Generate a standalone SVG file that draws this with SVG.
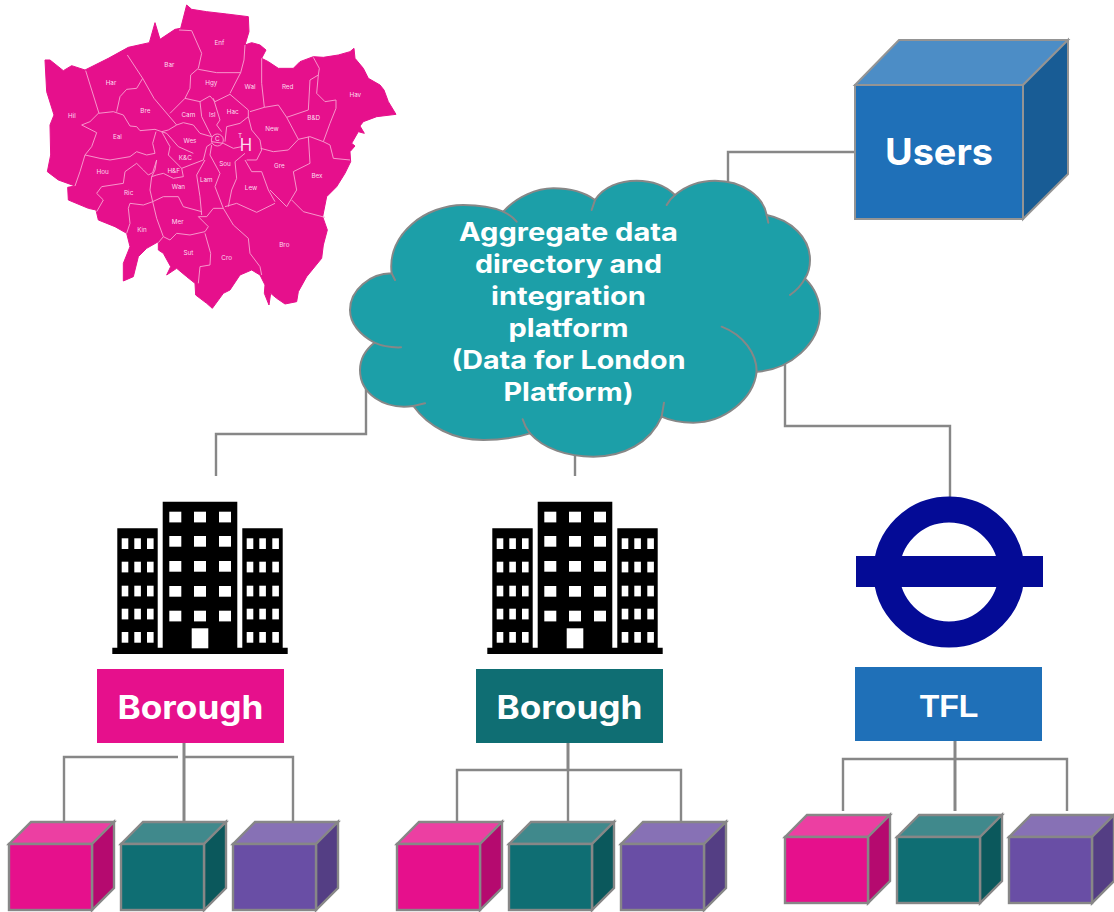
<svg xmlns="http://www.w3.org/2000/svg" width="1114" height="912" viewBox="0 0 1114 912">
<style>
.conn{fill:none;stroke:#878787;stroke-width:2.4}
.trunk{fill:none;stroke:#878787;stroke-width:3}
.edge{stroke:#878787;stroke-width:2.4;stroke-linejoin:miter}
.t{font-family:Inter,"Liberation Sans",sans-serif;font-weight:700;fill:#fff;text-anchor:middle}
.b{fill:none;stroke:#f79fd0;stroke-width:2.8;stroke-linejoin:round}
.m{font-family:Inter,"Liberation Sans",sans-serif;font-size:19px;fill:#fcdcee;text-anchor:middle}
.pk{--f:#e6108c;--u:#ec3fa2;--s:#b50a6f}
.tl{--f:#0f6e73;--u:#40898c;--s:#0b585c}
.pu{--f:#694ea5;--u:#8771b5;--s:#543e84}
.f{fill:var(--f)}.u{fill:var(--u)}.s{fill:var(--s)}
.w{fill:#fff}
</style>
<defs>
<g id="cube">
<path class="u edge" d="M0 22 22 0H105L83 22Z"/>
<path class="s edge" d="M83 22 105 0V66L83 88Z"/>
<rect class="f edge" x="0" y="22" width="83" height="66"/>
</g>
<g id="bld">
<path d="M112.3 647.7H117.3V528.3H157.7V647.7H162.7V501.7H237.3V647.7H242.3V528.3H282.7V647.7H287.7V654H112.3Z"/>
<g class="w">
<rect x="169.3" y="511.7" width="12" height="10.7"/><rect x="194" y="511.7" width="12" height="10.7"/><rect x="219" y="511.7" width="12" height="10.7"/>
<rect x="169.3" y="536" width="12" height="10.7"/><rect x="194" y="536" width="12" height="10.7"/><rect x="219" y="536" width="12" height="10.7"/>
<rect x="169.3" y="561" width="12" height="10.7"/><rect x="194" y="561" width="12" height="10.7"/><rect x="219" y="561" width="12" height="10.7"/>
<rect x="169.3" y="586" width="12" height="10.7"/><rect x="194" y="586" width="12" height="10.7"/><rect x="219" y="586" width="12" height="10.7"/>
<rect x="169.3" y="610.7" width="12" height="10.7"/><rect x="194" y="610.7" width="12" height="10.7"/><rect x="219" y="610.7" width="12" height="10.7"/>
<rect x="191.7" y="628.3" width="16.6" height="20"/>
<rect x="121.7" y="538.3" width="6.6" height="10.7"/><rect x="134.3" y="538.3" width="6.6" height="10.7"/><rect x="147" y="538.3" width="6.6" height="10.7"/>
<rect x="121.7" y="561.7" width="6.6" height="10.7"/><rect x="134.3" y="561.7" width="6.6" height="10.7"/><rect x="147" y="561.7" width="6.6" height="10.7"/>
<rect x="121.7" y="585.7" width="6.6" height="10.7"/><rect x="134.3" y="585.7" width="6.6" height="10.7"/><rect x="147" y="585.7" width="6.6" height="10.7"/>
<rect x="121.7" y="608.7" width="6.6" height="10.7"/><rect x="134.3" y="608.7" width="6.6" height="10.7"/><rect x="147" y="608.7" width="6.6" height="10.7"/>
<rect x="121.7" y="632" width="6.6" height="10.7"/><rect x="134.3" y="632" width="6.6" height="10.7"/><rect x="147" y="632" width="6.6" height="10.7"/>
<rect x="246.7" y="538.3" width="6.6" height="10.7"/><rect x="259.3" y="538.3" width="6.6" height="10.7"/><rect x="272.3" y="538.3" width="6.6" height="10.7"/>
<rect x="246.7" y="561.7" width="6.6" height="10.7"/><rect x="259.3" y="561.7" width="6.6" height="10.7"/><rect x="272.3" y="561.7" width="6.6" height="10.7"/>
<rect x="246.7" y="585.7" width="6.6" height="10.7"/><rect x="259.3" y="585.7" width="6.6" height="10.7"/><rect x="272.3" y="585.7" width="6.6" height="10.7"/>
<rect x="246.7" y="608.7" width="6.6" height="10.7"/><rect x="259.3" y="608.7" width="6.6" height="10.7"/><rect x="272.3" y="608.7" width="6.6" height="10.7"/>
<rect x="246.7" y="632" width="6.6" height="10.7"/><rect x="259.3" y="632" width="6.6" height="10.7"/><rect x="272.3" y="632" width="6.6" height="10.7"/>
</g>
</g>
</defs>

<g id="connectors">
<path class="conn" d="M855 152H728V184"/>
<path class="conn" d="M366 386V434H216V476"/>
<path class="conn" d="M575 455V476"/>
<path class="conn" d="M785 364V426H950V498"/>
<path class="trunk" d="M184 743V822"/>
<path class="conn" d="M178 757H64V822M184 757H293V822"/>
<path class="trunk" d="M568 743V770"/>
<path class="conn" d="M568 770V822M457 822V770H681V822"/>
<path class="trunk" d="M955 741V811"/>
<path class="conn" d="M843 811V759H1067V811"/>
</g>

<g id="map" transform="translate(30 0) scale(.33333)">
<path fill="#e6108c" stroke="#e6108c" stroke-width="3" stroke-linejoin="round" d="M470 15 485 28 530 35 590 42 655 50 657 95 645 135 665 128 690 135 708 150 695 175 715 185 745 205 790 205 810 185 850 170 880 172 925 165 960 155 972 145 975 175 1000 205 1015 235 1050 255 1062 270 1075 305 1098 343 1040 350 1000 365 990 378 1003 400 985 395 965 430 975 438 960 455 962 485 945 520 920 560 890 590 878 650 892 690 880 735 875 775 830 830 805 875 800 905 765 912 740 895 722 880 717 915 703 880 705 855 690 825 665 810 630 825 600 870 580 880 547 925 530 910 497 885 495 850 470 830 440 805 410 825 422 800 400 760 385 750 385 725 350 745 325 770 310 830 280 843 280 790 300 740 290 700 255 680 205 660 198 630 175 625 115 600 113 562 135 558 85 540 52 515 62 465 60 375 72 345 50 275 45 180 60 180 100 212 125 197 165 210 235 175 295 142 358 128 375 68 390 118 435 88 452 85Z"/>
<path class="b" d="M167 212 207 340M292 165 338 235 372 295 440 375M447 90 485 92 515 160 505 205 482 225 480 265 465 295 420 340M505 208 560 218 632 218M645 135 642 180 632 218 600 280M465 295 510 305 540 288 555 305 600 283M695 175 695 250 703 322 660 335M600 283 655 330 655 350M850 172 868 205 865 225 840 240 835 330 770 352M703 322 745 315 770 352M865 225 860 280 885 305 918 300 918 325 900 370 880 425M770 352 805 418M805 418 840 410 880 425 900 435 910 475 960 480M692 445 730 455 775 450 805 418M835 410 840 490 790 515 800 570 770 620 720 570M785 600 820 635 885 652M645 480 665 515 695 515 715 570 735 605M645 460 615 485 620 535 605 570 595 620M585 620 620 610 680 637 735 610M545 435 540 465 570 520 555 560 580 625M525 480 500 525 510 590 515 645M505 650 530 650 550 625 580 625M580 625 610 675 655 715 660 760 690 800 695 825M525 700 542 760 540 795 510 800 505 850M400 710 420 720 440 700 480 705 525 695 535 680 505 650M368 605 380 655 400 710 385 728M368 605 340 615 300 610 295 625 300 670 290 700M368 605 400 590 445 590 460 620 515 635M368 605 360 570 365 530 380 525 400 520 430 535 460 530 455 505 520 480 530 440 545 430M200 635 220 600 200 580 215 560 280 550 285 515 320 490 340 510 355 525 368 518 380 480 375 510 365 530M165 465 210 475 240 480 300 470 320 455 350 465 375 460 368 430 378 395M165 465 150 515 135 558M155 375 180 365 205 340 250 335 280 345 300 378 320 380 330 392 375 388 395 395 415 390 440 375 460 368 490 375 510 400 545 410M155 375 200 398 185 440 165 465M338 235 320 265 290 268 270 290 260 335M395 395 410 400 445 440 490 460M395 395 420 440 415 465 455 505M510 305 515 350 545 410M550 295 570 360 560 375 575 395M655 350 630 370 590 380 585 425M545 425 580 430 610 445 635 440M655 350 665 390 690 420 695 450 680 480 650 480"/>
<circle cx="562" cy="420" r="18" fill="none" stroke="#f79fd0" stroke-width="2.8"/>
<g class="m">
<text x="568" y="136">Enf</text><text x="418" y="202">Bar</text><text x="243" y="256">Har</text><text x="544" y="256">Hgy</text><text x="660" y="268">Wal</text><text x="773" y="268">Red</text><text x="976" y="290">Hav</text><text x="126" y="355">Hil</text><text x="346" y="339">Bre</text><text x="475" y="350">Cam</text><text x="547" y="351">Isl</text><text x="608" y="341">Hac</text><text x="851" y="360">B&amp;D</text><text x="726" y="394">New</text><text x="262" y="418">Eal</text><text x="480" y="428">Wes</text><text x="630" y="413">T</text><text x="562" y="424">C</text><text x="466" y="479">K&amp;C</text><text x="585" y="497">Sou</text><text x="748" y="505">Gre</text><text x="218" y="521">Hou</text><text x="431" y="518">H&amp;F</text><text x="861" y="533">Bex</text><text x="529" y="547">Lam</text><text x="445" y="566">Wan</text><text x="663" y="571">Lew</text><text x="296" y="584">Ric</text><text x="443" y="673">Mer</text><text x="336" y="695">Kin</text><text x="763" y="742">Bro</text><text x="475" y="766">Sut</text><text x="590" y="780">Cro</text>
<text x="648" y="453" style="font-size:50px">H</text>
</g>
</g>

<g id="users">
<path d="M855 85 899 40H1068L1023 85Z" fill="#4c8dc6" stroke="#949494" stroke-width="2"/>
<path d="M1023 85 1068 40V174L1023 219Z" fill="#185c95" stroke="#949494" stroke-width="2"/>
<rect x="855" y="85" width="168" height="134" fill="#1f70b8" stroke="#949494" stroke-width="2"/>
<text class="t" x="939" y="165" font-size="37" textLength="108" lengthAdjust="spacingAndGlyphs">Users</text>
</g>

<g id="cloud">
<g transform="translate(340 170) scale(.33333)" fill="#1c9fa8" stroke="#878787" stroke-width="6" stroke-linecap="round">
<path d="M155 310C140 190 260 105 370 105 420 105 460 112 490 125 530 80 590 55 640 55 690 55 735 68 765 90 790 50 840 32 890 32 940 32 980 50 1005 75 1040 45 1080 32 1125 32 1210 32 1270 80 1280 135 1355 150 1410 205 1410 270 1410 290 1405 310 1395 325 1425 355 1440 390 1440 430 1440 520 1350 600 1250 605 1240 690 1150 758 1060 758 1025 758 990 752 965 740 930 820 850 860 760 860 680 860 610 835 570 790 530 803 480 810 430 810 340 810 265 770 220 708 130 720 60 670 60 600 60 565 78 538 103 518 60 495 30 460 30 420 30 360 90 310 155 310Z"/>
<path fill="none" d="M155 310 165 330M490 125C505 132 520 143 530 155M765 90 755 120M1005 75C995 83 985 95 980 105M1280 135 1285 158M1395 325C1385 345 1368 362 1350 375M1145 470C1210 495 1250 550 1250 605M965 740 972 698M570 790C560 778 553 765 548 748M220 708 255 700M103 518C125 528 155 533 183 532"/>
</g>
<g class="t" font-size="25">
<text x="568.500" y="241" textLength="219" lengthAdjust="spacingAndGlyphs">Aggregate data</text>
<text x="568.500" y="273" textLength="187" lengthAdjust="spacingAndGlyphs">directory and</text>
<text x="568.500" y="305" textLength="155" lengthAdjust="spacingAndGlyphs">integration</text>
<text x="568.500" y="337" textLength="120" lengthAdjust="spacingAndGlyphs">platform</text>
<text x="568.500" y="369" textLength="234" lengthAdjust="spacingAndGlyphs">(Data for London</text>
<text x="568.500" y="401" textLength="130" lengthAdjust="spacingAndGlyphs">Platform)</text>
</g>
</g>

<g id="building-1"><use href="#bld"/></g>
<g id="building-2"><use href="#bld" x="375"/></g>

<g id="roundel">
<circle cx="949" cy="572" r="62.500" fill="none" stroke="#040b96" stroke-width="26"/>
<rect x="856" y="556" width="187" height="31" fill="#040b96"/>
</g>

<g id="borough-1"><rect x="97" y="669" width="187" height="74" fill="#e6108c"/><text class="t" x="190.500" y="719" font-size="32" textLength="146" lengthAdjust="spacingAndGlyphs">Borough</text></g>
<g id="borough-2"><rect x="476" y="669" width="187" height="74" fill="#0f6e73"/><text class="t" x="569.500" y="719" font-size="32" textLength="146" lengthAdjust="spacingAndGlyphs">Borough</text></g>
<g id="tfl"><rect x="855" y="667" width="187" height="74" fill="#1f70b8"/><text x="949" y="717" font-family="'Liberation Sans',Arial,sans-serif" font-weight="700" fill="#fff" text-anchor="middle" font-size="32">TFL</text></g>

<g id="cube-1a" class="pk"><use href="#cube" x="9" y="822"/></g>
<g id="cube-1b" class="tl"><use href="#cube" x="121" y="822"/></g>
<g id="cube-1c" class="pu"><use href="#cube" x="233" y="822"/></g>
<g id="cube-2a" class="pk"><use href="#cube" x="397" y="822"/></g>
<g id="cube-2b" class="tl"><use href="#cube" x="509" y="822"/></g>
<g id="cube-2c" class="pu"><use href="#cube" x="621" y="822"/></g>
<g id="cube-3a" class="pk"><use href="#cube" x="785" y="815"/></g>
<g id="cube-3b" class="tl"><use href="#cube" x="897" y="815"/></g>
<g id="cube-3c" class="pu"><use href="#cube" x="1009" y="815"/></g>
</svg>
